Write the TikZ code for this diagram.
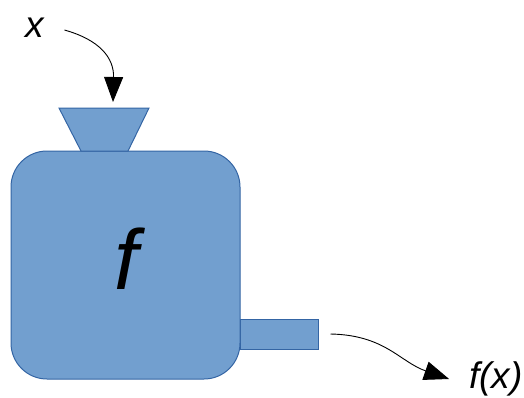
\documentclass[tikz,border=0pt]{standalone}
\usepackage{fontspec}
\setmainfont{Liberation Sans}
\usetikzlibrary{arrows.meta}
\definecolor{boxfill}{HTML}{729FCF}
\definecolor{boxline}{HTML}{3465A4}
\begin{document}
\begin{tikzpicture}[x=1pt,y=-1pt,
	part/.style={fill=boxfill,draw=boxline,line width=1pt,inner sep=0pt},
	flow/.style={-{Triangle[length=25pt,width=19pt]},line width=0.9pt},
	lbl/.style={font=\itshape\fontsize{37}{40}\selectfont,inner sep=0pt}]
	\useasboundingbox (0,0) rectangle (524,397);
	% draw machine
	\node[part,minimum width=78pt,minimum height=30pt] (spout) at (279,334) {};
	\node[part,rounded corners=36pt,minimum width=229pt,minimum height=228pt] (body) at (125.5,265) {};
	\node[font=\itshape\fontsize{85}{85}\selectfont,inner sep=0pt] (name) at (126,259) {f};
	\draw[part] (59,108) -- (149,108) -- (128,151) -- (81,151) -- cycle;
	\coordinate (funnel) at (113,108);
	% draw labels
	\node[lbl] (in) at (35,28) {x};
	\node[lbl] (out) at (496,379) {f(x)};
	% draw movement
	\draw[flow] ([xshift=20pt,yshift=-2pt]in.east) .. controls (100,40) and (114,58) .. ([yshift=6pt]funnel);
	\draw[flow] ([xshift=12pt]spout.east) .. controls (385,335) and (400,362) .. ([xshift=-20pt]out.west);
\end{tikzpicture}
\end{document}
